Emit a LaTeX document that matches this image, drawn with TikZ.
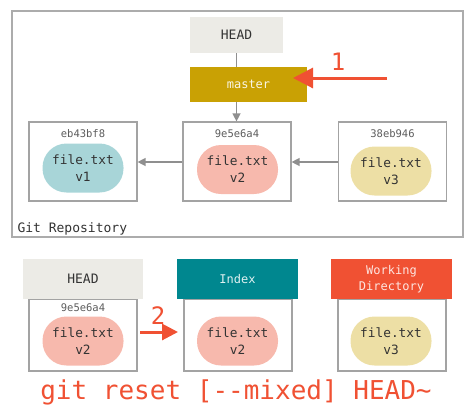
\documentclass[tikz,border=0pt]{standalone}
\usepackage{fontspec}
\setmonofont{DejaVu Sans Mono}
\usepackage{xcolor}
\usetikzlibrary{arrows.meta,positioning}

\definecolor{headgray}{HTML}{ECEBE6}
\definecolor{gitgold}{HTML}{C9A104}
\definecolor{gitteal}{HTML}{00878F}
\definecolor{gitred}{HTML}{F05133}
\definecolor{pillblue}{HTML}{A8D5D8}
\definecolor{pillpink}{HTML}{F7B9AD}
\definecolor{pillyellow}{HTML}{EDDFA5}
\definecolor{boxline}{HTML}{A3A3A3}
\definecolor{arrowgray}{HTML}{8F8F8F}
\definecolor{darktext}{HTML}{333333}

\tikzset{
  commitbox/.style={draw=boxline,line width=1.2pt,minimum width=108pt,minimum height=79pt},
  areabox/.style={draw=boxline,line width=1.2pt,minimum width=108pt,minimum height=72pt},
  pill/.style={rounded corners=24pt,minimum width=81pt,minimum height=49pt,align=center,
    text=darktext,font=\ttfamily\fontsize{12.8}{17}\selectfont},
  hashlabel/.style={text=darktext!80,font=\ttfamily\fontsize{10.5}{12}\selectfont},
  header/.style={minimum width=121pt,minimum height=40pt,align=center,
    font=\ttfamily\fontsize{12}{16}\selectfont},
  grayarrow/.style={draw=arrowgray,line width=1.3pt,-{Triangle[length=8pt,width=8pt]}},
  redarrow/.style={draw=gitred,line width=3pt},
  bignum/.style={text=gitred,font=\ttfamily\fontsize{24}{24}\selectfont}
}

\begin{document}
\begin{tikzpicture}[x=1pt,y=-1pt]
  \useasboundingbox (0,0) rectangle (474,416);
  % repository
  \draw[boxline!90,line width=1.5pt] (12,11) rectangle (463,237);
  \node[anchor=west,text=darktext,font=\ttfamily\fontsize{13}{16}\selectfont] (repolabel) at (14,229) {Git Repository};

  \node[fill=headgray,minimum width=93pt,minimum height=36pt,text=darktext,
        font=\ttfamily\fontsize{13}{16}\selectfont] (head) at (236.5,35) {HEAD};
  \node[fill=gitgold,minimum width=117pt,minimum height=35pt,text=white!90!gitgold,
        font=\ttfamily\fontsize{12}{16}\selectfont] (master) at (248.5,84.5) {master};

  \node[commitbox] (c1) at (83,161.5) {};
  \node[commitbox] (c2) at (237,161.5) {};
  \node[commitbox] (c3) at (392.5,161.5) {};
  \node[hashlabel] (h1) at (83,134) {eb43bf8};
  \node[hashlabel] (h2) at (237,134) {9e5e6a4};
  \node[hashlabel] (h3) at (392.5,134) {38eb946};
  \node[pill,fill=pillblue] (f1) at (83,168) {file.txt\\v1};
  \node[pill,fill=pillpink] (f2) at (237.5,169.5) {file.txt\\v2};
  \node[pill,fill=pillyellow] (f3) at (391,171) {file.txt\\v3};

  \draw[arrowgray,line width=1.3pt] (head.south) -- (head.south |- master.north);
  \draw[grayarrow] (master.south -| head) -- (c2.north -| head);
  \draw[grayarrow] (c2.west |- 0,162) -- (c1.east |- 0,162);
  \draw[grayarrow] (c3.west |- 0,162) -- (c2.east |- 0,162);

  % step 1
  \coordinate (start1) at (387,78);
  \coordinate (tip1) at (293,78);
  \draw[redarrow,-{Triangle[length=20pt,width=20pt]}] (start1) -- (tip1);
  \node[bignum] (one) at (338,62) {1};

  % the three areas
  \node[areabox] (b1) at (83,335) {};
  \node[areabox] (b2) at (238,335) {};
  \node[areabox] (b3) at (392,335) {};
  \node[header,fill=headgray,minimum width=120pt,text=darktext,font=\ttfamily\fontsize{13}{16}\selectfont] (hhead) at (83,279) {HEAD};
  \node[header,fill=gitteal,text=white!88!gitteal] (index) at (237.5,279) {Index};
  \node[header,fill=gitred,text=white!85!gitred] (wdir) at (391.5,279) {Working\\Directory};
  \node[hashlabel] (h4) at (83,308) {9e5e6a4};
  \node[pill,fill=pillpink] (f4) at (83,341) {file.txt\\v2};
  \node[pill,fill=pillpink] (f5) at (237.5,341) {file.txt\\v2};
  \node[pill,fill=pillyellow] (f6) at (391,341) {file.txt\\v3};

  % step 2
  \coordinate (start2) at (140,332);
  \coordinate (tip2) at (178,332);
  \draw[redarrow,-{Triangle[length=16pt,width=16pt]}] (start2) -- (tip2);
  \node[bignum] (two) at (158,316) {2};

  \node[text=gitred,font=\ttfamily\fontsize{26}{28}\selectfont] (cmd) at (236,392) {git reset [--mixed] HEAD\char`~};
\end{tikzpicture}
\end{document}
